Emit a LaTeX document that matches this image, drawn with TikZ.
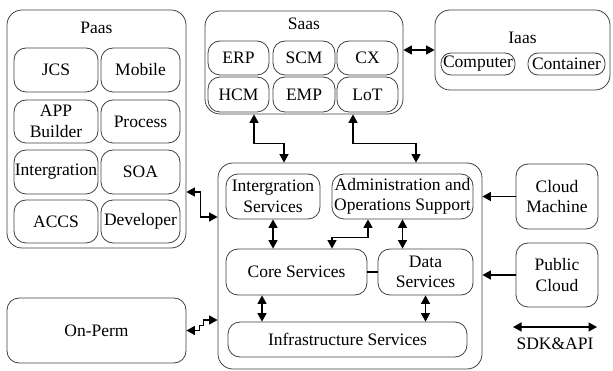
\documentclass[tikz,border=0pt]{standalone}
\usepackage{fontspec}
\setmainfont{Liberation Serif}
\usetikzlibrary{arrows.meta}

\tikzset{
  box/.style={draw=black!75, line width=0.8pt, rounded corners=12pt, inner sep=0pt,
    align=center, font=\fontsize{17.5}{20.5}\selectfont},
  outer/.style={box, rounded corners=15pt},
  title/.style={inner sep=0pt, font=\fontsize{17.5}{20.5}\selectfont},
  dbl/.style={{Triangle[length=8.5pt,width=9pt]}-{Triangle[length=8.5pt,width=9pt]}, line width=1.4pt},
  arr/.style={-{Triangle[length=8.5pt,width=9pt]}, line width=1.4pt},
}

\begin{document}
\begin{tikzpicture}[x=1pt,y=-1pt]
\useasboundingbox (0,0) rectangle (613,371);

% Paas column
\node[outer, minimum width=179pt, minimum height=238pt] (paas) at (96.5,129) {};
\node[title] (paast) at (96.5,28) {Paas};
\node[box, minimum width=84pt, minimum height=44pt] (jcs) at (56,70) {JCS};
\node[box, minimum width=79pt, minimum height=44pt] (mobile) at (140.5,70) {Mobile};
\node[box, minimum width=84pt, minimum height=43pt] (app) at (56,121.5) {APP\\Builder};
\node[box, minimum width=79pt, minimum height=43pt] (process) at (140.5,121.5) {Process};
\node[box, minimum width=84pt, minimum height=44pt] (integ) at (56,172) {Intergration};
\node[box, minimum width=79pt, minimum height=44pt] (soa) at (140.5,172) {SOA};
\node[box, minimum width=84pt, minimum height=43pt] (accs) at (56,221.5) {ACCS};
\node[box, minimum width=79pt, minimum height=43pt] (dev) at (140.5,221.5) {Developer};

% Saas block
\node[outer, minimum width=198pt, minimum height=103pt] (saas) at (304,62.5) {};
\node[title] (saast) at (304,24) {Saas};
\node[box, minimum width=61pt, minimum height=34pt] (erp) at (238.5,58) {ERP};
\node[box, minimum width=62pt, minimum height=34pt] (scm) at (304,58) {SCM};
\node[box, minimum width=61pt, minimum height=34pt] (cx) at (367.5,58) {CX};
\node[box, minimum width=61pt, minimum height=35pt] (hcm) at (238.5,94.5) {HCM};
\node[box, minimum width=62pt, minimum height=35pt] (emp) at (304,94.5) {EMP};
\node[box, minimum width=61pt, minimum height=35pt] (lot) at (367.5,94.5) {LoT};

% Iaas block
\node[outer, minimum width=175pt, minimum height=80pt] (iaas) at (522.5,50) {};
\node[title] (iaast) at (522.5,38) {Iaas};
\node[box, minimum width=74pt, minimum height=22pt, rounded corners=10pt] (comp) at (478,64) {Computer};
\node[box, minimum width=77pt, minimum height=22pt, rounded corners=10pt] (cont) at (566.5,64) {Container};

% Central services block
\node[outer, minimum width=264pt, minimum height=206pt] (main) at (350,266) {};
\node[box, minimum width=94pt, minimum height=45pt] (intsvc) at (273,196.5) {Intergration\\Services};
\node[box, minimum width=141pt, minimum height=45pt] (admin) at (402.5,196.5) {Administration and\\Operations Support};
\node[box, minimum width=141pt, minimum height=46pt] (core) at (296.5,272) {Core Services};
\node[box, minimum width=95pt, minimum height=46pt] (data) at (425.5,272) {Data\\Services};
\node[box, minimum width=239pt, minimum height=35pt] (infra) at (347.5,339.5) {Infrastructure Services};

% External sources
\node[box, minimum width=82pt, minimum height=65pt] (cm) at (557,196.5) {Cloud\\Machine};
\node[box, minimum width=82pt, minimum height=64pt] (pc) at (557,275) {Public\\Cloud};
\node[box, minimum width=179pt, minimum height=65pt] (onperm) at (96.5,330.5) {On-Perm};

% Legend
\coordinate (sdkl) at (513,327);
\coordinate (sdkr) at (597,327);
\draw[dbl] (sdkl) -- (sdkr);
\node[title] (sdk) at (555,344) {SDK\&API};

% Connectors
\draw[dbl] (saas.east |- iaas.west) -- (iaas.west);
\draw[dbl] ([xshift=-50pt]saas.south) -- ++(0,29) -| ([xshift=-66pt]main.north);
\draw[dbl] ([xshift=49pt]saas.south) -- ++(0,29) -| ([xshift=66pt]main.north);
\draw[dbl] ([yshift=-63pt]paas.east) -- ++(14,0) |- ([yshift=49pt]main.west);
\draw[dbl] (onperm.east) -- ++(13,0) -- ++(0,-5) -- ++(4,0) |- ([yshift=-54pt]main.west);
\draw[dbl] (intsvc.south) -- (intsvc.south |- core.north);
\draw[dbl] (admin.south) -- (admin.south |- data.north);
\draw[dbl] ([xshift=-34.5pt]admin.south) -- ++(0,18) -| ([xshift=35.5pt]core.north);
\draw[line width=1.1pt] (core.east) -- (data.west);
\draw[dbl] ([xshift=-34.5pt]core.south) -- ([xshift=-34.5pt]core.south |- infra.north);
\draw[dbl] (data.south) -- (data.south |- infra.north);
\draw[arr] (cm.west) -- (cm.west -| main.east);
\draw[arr] (pc.west) -- (pc.west -| main.east);
\end{tikzpicture}
\end{document}
